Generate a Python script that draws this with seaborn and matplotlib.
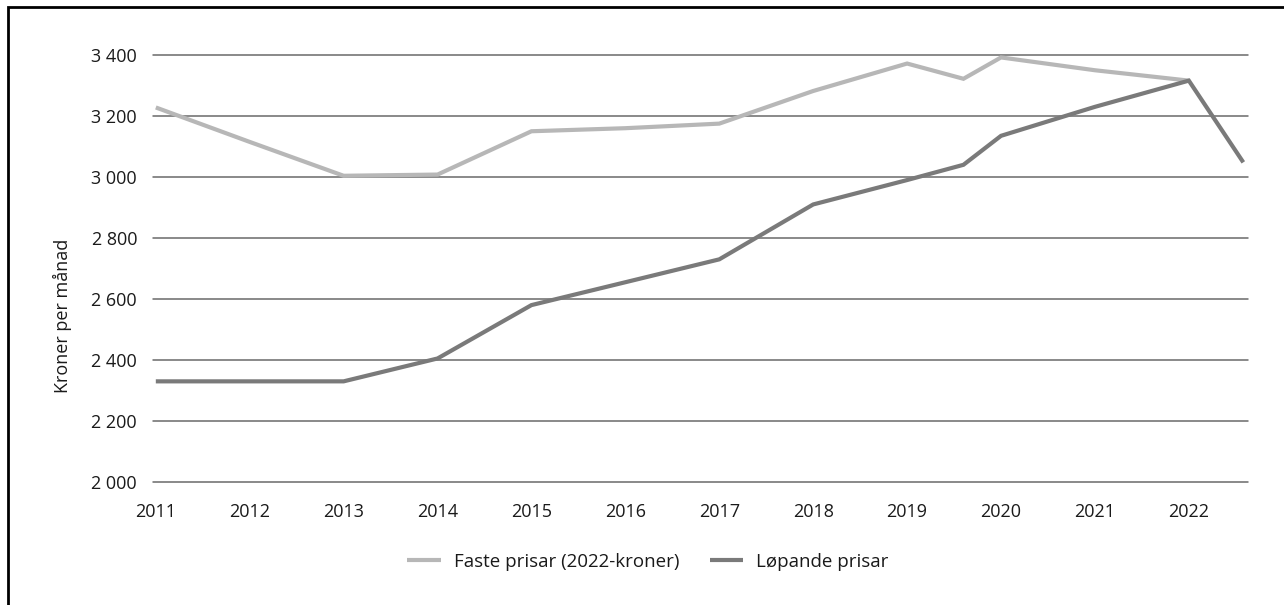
import matplotlib.pyplot as plt
import pandas as pd
import seaborn as sns
from matplotlib.patches import Rectangle
from matplotlib.ticker import FuncFormatter

# Verdiar lesne av figuren (kroner per månad).
years_fixed = [2011, 2012, 2013, 2014, 2015, 2016, 2017, 2018, 2019, 2019.6, 2020, 2021, 2022]
fixed_prices = [3228, 3115, 3004, 3008, 3150, 3160, 3175, 3282, 3372, 3322, 3392, 3350, 3316]
years_current = [2011, 2012, 2013, 2014, 2015, 2016, 2017, 2018, 2019, 2019.6, 2020, 2021, 2022, 2022.58]
current_prices = [2330, 2330, 2330, 2405, 2580, 2655, 2730, 2910, 2990, 3040, 3135, 3230, 3316, 3048]
series_names = ["Faste prisar (2022-kroner)", "Løpande prisar"]
tick_years = list(range(2011, 2023))

df = pd.concat([
    pd.DataFrame({"year": years_fixed, "value": fixed_prices, "serie": series_names[0]}),
    pd.DataFrame({"year": years_current, "value": current_prices, "serie": series_names[1]}),
])

sns.set_theme(style="white")
plt.rcParams["font.family"] = ["Open Sans", "DejaVu Sans"]

fig = plt.figure(figsize=(12.84, 6.05), dpi=100)
ax = fig.add_axes([153 / 1284, 1 - 482 / 605, (1248 - 153) / 1284, (482 - 55) / 605])

sns.lineplot(data=df, x="year", y="value", hue="serie", palette=["#b7b7b7", "#7a7a7a"],
             linewidth=3, ax=ax, legend=True, sort=False, zorder=3)
for ln in ax.lines:
    ln.set_clip_on(False)
    ln.set_solid_capstyle("butt")
    ln.set_solid_joinstyle("miter")

ax.set_xlim(2010.97, 2022.63)
ax.set_ylim(2000, 3400)
ax.set_yticks(range(2000, 3401, 200))
ax.yaxis.set_major_formatter(FuncFormatter(lambda v, _: f"{int(v):,}".replace(",", " ")))
ax.set_xticks(tick_years)
ax.grid(False)
for v in range(2000, 3401, 200):
    ax.axhline(v, color="#6a6a6a", linewidth=1.1, zorder=1, clip_on=False)
for s in ax.spines.values():
    s.set_visible(False)
ax.tick_params(axis="both", length=0, labelsize=13, colors="#1a1a1a")
ax.tick_params(axis="y", pad=11.5)
ax.tick_params(axis="x", pad=15)
ax.set_xlabel("")
ax.set_ylabel("Kroner per månad", fontsize=13, color="#1a1a1a")
ax.yaxis.set_label_coords(-0.074, 0.39)

handles, labels = ax.get_legend_handles_labels()
ax.get_legend().remove()
fig.legend(handles, labels, loc="center", bbox_to_anchor=(648 / 1284, 1 - 562 / 605),
           ncol=2, frameon=False, fontsize=13.5, handlelength=1.8, columnspacing=1.6,
           handletextpad=0.7, labelcolor="#1a1a1a")

# ramme rundt figuren (berre venstre og øvre kant synleg)
fig.patches.append(Rectangle((8 / 1284, -0.1), 1.2, 1.1 - 7 / 605, transform=fig.transFigure,
                             fill=False, edgecolor="black", linewidth=2))

fig.savefig("out.png", dpi=100)
